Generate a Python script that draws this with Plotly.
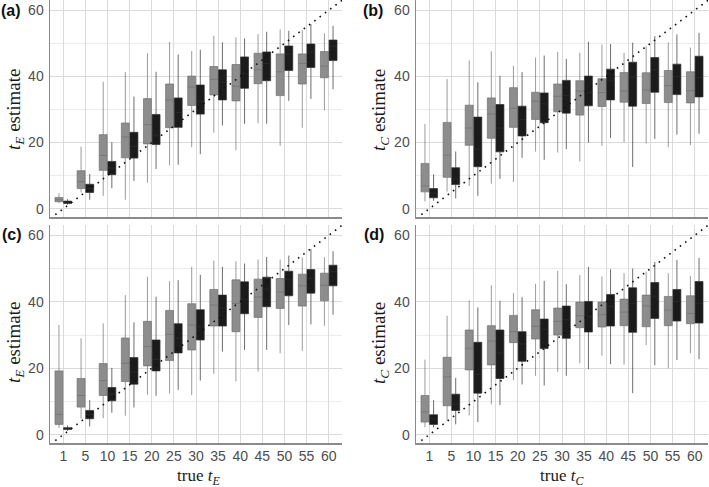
import plotly.graph_objects as go

# ---------------- data ----------------
categories = [1, 5, 10, 15, 20, 25, 30, 35, 40, 45, 50, 55, 60]
tick_labels = [str(c) for c in categories]

# panel (a): t_E, gray series
a_g_lo = [1.7, 4.9, 3.9, 2.7, 7.9, 13.1, 18.6, 23.0, 17.7, 25.8, 19.0, 24.5, 29.7]
a_g_q1 = [2.1, 6.1, 11.6, 15.4, 19.6, 24.5, 31.2, 34.4, 32.6, 37.8, 34.2, 37.7, 39.6]
a_g_md = [2.7, 8.2, 16.1, 21.7, 25.4, 32.9, 36.8, 39.1, 37.0, 42.0, 41.4, 43.9, 43.1]
a_g_q3 = [3.4, 11.5, 22.4, 25.9, 33.3, 37.7, 40.1, 43.0, 43.6, 47.0, 46.8, 46.8, 47.5]
a_g_hi = [4.7, 18.8, 38.4, 41.3, 47.0, 50.4, 47.6, 52.3, 51.8, 52.8, 54.2, 54.0, 53.0]
# panel (a): black series
a_k_lo = [1.2, 2.7, 6.2, 8.4, 12.0, 13.3, 16.5, 25.2, 25.7, 25.7, 32.6, 33.2, 36.1]
a_k_q1 = [1.6, 4.9, 10.3, 15.3, 19.4, 24.6, 28.6, 32.9, 36.4, 38.7, 41.8, 42.7, 44.8]
a_k_md = [2.0, 6.1, 12.3, 18.8, 22.3, 29.1, 32.5, 38.2, 41.0, 43.9, 46.7, 47.4, 49.1]
a_k_q3 = [2.3, 7.4, 14.3, 23.1, 28.5, 33.5, 37.4, 42.0, 45.9, 47.4, 49.2, 49.8, 51.0]
a_k_hi = [2.9, 10.5, 20.1, 33.9, 41.4, 46.6, 48.1, 50.3, 51.5, 53.5, 53.8, 55.8, 55.3]

# panel (b): t_C, gray
b_g_lo = [2.2, 5.2, 6.9, 7.6, 8.1, 17.3, 17.0, 14.3, 19.0, 20.1, 19.7, 18.6, 19.2]
b_g_q1 = [5.1, 9.5, 19.2, 21.3, 24.6, 27.0, 29.3, 28.3, 30.9, 32.2, 31.8, 32.1, 32.0]
b_g_md = [6.9, 16.2, 24.4, 28.6, 30.4, 32.5, 34.0, 35.6, 35.1, 35.6, 35.9, 37.2, 35.7]
b_g_q3 = [13.7, 26.1, 31.3, 33.5, 36.6, 35.2, 37.7, 38.7, 39.3, 41.2, 41.1, 41.8, 41.4]
b_g_hi = [25.6, 39.2, 44.8, 47.6, 43.2, 45.7, 47.4, 47.2, 49.6, 47.1, 49.1, 50.3, 48.7]
# panel (b): black
b_k_lo = [2.4, 3.1, 3.9, 9.0, 15.4, 14.8, 18.0, 20.0, 21.4, 12.6, 21.1, 22.4, 22.7]
b_k_q1 = [3.3, 7.3, 12.7, 17.2, 22.0, 26.0, 28.9, 31.1, 32.9, 31.0, 35.2, 34.5, 33.8]
b_k_md = [4.7, 9.0, 18.1, 24.4, 27.0, 31.7, 34.2, 35.1, 38.6, 39.8, 42.0, 39.9, 39.7]
b_k_q3 = [6.1, 12.4, 27.7, 31.5, 31.0, 35.0, 38.8, 40.1, 42.2, 44.3, 45.7, 43.7, 46.1]
b_k_hi = [10.4, 17.3, 38.2, 40.2, 41.3, 46.3, 45.3, 50.5, 49.8, 50.2, 52.2, 52.7, 53.2]

# panel (c): t_E, gray
c_g_lo = [2.0, 4.8, 5.0, 5.7, 12.0, 12.4, 11.9, 18.3, 16.0, 19.0, 24.5, 25.2, 32.8]
c_g_q1 = [3.1, 8.3, 11.8, 16.0, 20.7, 22.3, 25.5, 32.7, 31.0, 35.3, 38.0, 38.7, 40.3]
c_g_md = [6.1, 11.8, 16.3, 21.5, 26.5, 30.2, 33.0, 39.0, 39.5, 41.4, 42.9, 44.8, 45.0]
c_g_q3 = [19.2, 16.9, 21.4, 29.1, 34.1, 37.4, 39.4, 43.7, 46.6, 46.8, 47.0, 48.3, 48.6]
c_g_hi = [33.0, 29.0, 33.5, 42.0, 47.5, 46.2, 50.5, 52.4, 52.2, 52.7, 52.7, 53.3, 53.4]
# panel (c): black
c_k_lo = [1.1, 2.5, 6.6, 8.2, 11.7, 13.5, 16.3, 25.0, 25.5, 25.5, 33.0, 33.2, 36.1]
c_k_q1 = [1.6, 4.8, 10.2, 15.2, 19.2, 24.6, 28.5, 32.7, 36.4, 38.5, 41.8, 42.6, 44.8]
c_k_md = [1.9, 6.0, 12.2, 18.9, 22.7, 29.0, 32.5, 38.1, 40.9, 43.8, 46.6, 47.0, 49.1]
c_k_q3 = [2.1, 7.3, 14.2, 23.2, 28.5, 33.4, 37.6, 42.0, 46.0, 47.4, 49.2, 49.7, 51.0]
c_k_hi = [2.8, 10.4, 20.1, 33.8, 41.5, 46.5, 48.1, 50.5, 51.5, 53.5, 53.9, 55.9, 55.2]

# panel (d): t_C, gray
d_g_lo = [2.2, 4.3, 5.8, 9.1, 16.4, 17.7, 18.9, 21.5, 23.8, 21.1, 27.0, 20.0, 24.5]
d_g_q1 = [3.8, 8.7, 19.5, 21.0, 27.7, 28.8, 30.0, 32.2, 32.4, 32.8, 32.5, 32.8, 33.4]
d_g_md = [6.9, 17.4, 26.0, 28.2, 31.0, 32.6, 34.1, 35.8, 36.1, 36.9, 38.8, 37.5, 36.5]
d_g_q3 = [11.8, 23.3, 31.5, 32.8, 35.9, 37.6, 38.1, 39.9, 39.9, 40.8, 42.0, 41.6, 41.8]
d_g_hi = [22.6, 35.8, 40.4, 45.0, 42.6, 45.4, 49.3, 48.0, 47.6, 48.6, 49.1, 48.6, 47.8]
# panel (d): black
d_k_lo = [2.2, 3.1, 3.8, 8.9, 15.1, 14.8, 17.7, 19.7, 21.2, 12.5, 20.9, 22.5, 22.7]
d_k_q1 = [3.1, 7.3, 12.5, 16.9, 22.1, 25.9, 29.0, 30.9, 32.7, 30.8, 35.0, 34.2, 33.6]
d_k_md = [4.8, 9.2, 18.2, 24.6, 27.3, 31.7, 34.6, 35.4, 38.6, 39.5, 41.7, 40.1, 39.6]
d_k_q3 = [6.0, 12.2, 27.8, 31.5, 31.0, 34.8, 38.7, 40.1, 42.2, 44.2, 45.8, 43.7, 46.1]
d_k_hi = [10.4, 17.1, 38.3, 40.3, 41.4, 46.3, 45.3, 50.5, 49.8, 50.0, 52.0, 52.6, 53.2]

# ---------------- figure ----------------
W, H = 709, 487
pos = list(range(len(categories)))
x_range = [-0.6, len(categories) - 1 + 0.6]
y_range = [-2.5, 63.1]
slope = (categories[-1] - categories[1]) / (len(categories) - 2)

GRAY_FILL, GRAY_LINE = "#8d8d8d", "#707070"
BLACK_FILL, BLACK_LINE = "#1b1b1b", "#2e2e2e"

panels = [
    ("x", "y", (a_g_lo, a_g_q1, a_g_md, a_g_q3, a_g_hi), (a_k_lo, a_k_q1, a_k_md, a_k_q3, a_k_hi)),
    ("x2", "y2", (b_g_lo, b_g_q1, b_g_md, b_g_q3, b_g_hi), (b_k_lo, b_k_q1, b_k_md, b_k_q3, b_k_hi)),
    ("x3", "y3", (c_g_lo, c_g_q1, c_g_md, c_g_q3, c_g_hi), (c_k_lo, c_k_q1, c_k_md, c_k_q3, c_k_hi)),
    ("x4", "y4", (d_g_lo, d_g_q1, d_g_md, d_g_q3, d_g_hi), (d_k_lo, d_k_q1, d_k_md, d_k_q3, d_k_hi)),
]

fig = go.Figure()
for xa, ya, gs, ks in panels:
    for name, st, fill, line in (("g", gs, GRAY_FILL, GRAY_LINE), ("k", ks, BLACK_FILL, BLACK_LINE)):
        lo, q1, md, q3, hi = st
        fig.add_trace(go.Box(
            x=pos, lowerfence=lo, q1=q1, median=md, q3=q3, upperfence=hi,
            boxpoints=False, fillcolor=fill, line=dict(color=line, width=0.7),
            whiskerwidth=0, offsetgroup=name, alignmentgroup=xa,
            xaxis=xa, yaxis=ya, showlegend=False, hoverinfo="skip",
        ))
    fig.add_trace(go.Scatter(
        x=x_range, y=[slope * v for v in x_range], mode="lines",
        line=dict(color="#111111", width=1.6, dash="1.6px,5px"),
        xaxis=xa, yaxis=ya, showlegend=False, hoverinfo="skip",
    ))

def px_x(p):
    return p / W

def px_y(p):
    return 1 - p / H

dom_x_left = [px_x(50), px_x(342)]
dom_x_right = [px_x(416), px_x(708)]
dom_y_top = [px_y(217), px_y(0)]
dom_y_bot = [px_y(443), px_y(225)]

tick_font = dict(family="Liberation Sans, Arial, sans-serif", size=14, color="#4d4d4d")
GRID = "#dadada"
MINOR = "#ececec"
AXLINE = "#8a8a8a"

def xaxis(domain, anchor, show_labels):
    return dict(
        domain=domain, anchor=anchor, range=x_range, tickvals=pos, ticktext=tick_labels,
        showticklabels=show_labels, showgrid=True, gridcolor=GRID, gridwidth=1,
        zeroline=False, showline=True, linecolor=AXLINE, linewidth=1.5, ticks="",
        tickfont=tick_font, fixedrange=True, automargin=False,
    )

def yaxis(domain, anchor):
    return dict(
        domain=domain, anchor=anchor, range=y_range, tickvals=[0, 20, 40, 60],
        showgrid=True, gridcolor=GRID, gridwidth=1,
        minor=dict(tickvals=[10, 30, 50], showgrid=True, gridcolor=MINOR, gridwidth=1),
        zeroline=False, showline=True, linecolor=AXLINE, linewidth=1.5, ticks="",
        tickfont=tick_font, ticklabelstandoff=2, fixedrange=True, automargin=False,
    )

serif_y = dict(family="Liberation Serif, Times New Roman, serif", size=19, color="#1a1a1a")
serif_x = dict(family="Liberation Serif, Times New Roman, serif", size=17, color="#1a1a1a")
bold = dict(family="Liberation Sans, Arial, sans-serif", size=16, color="#111111")

annotations = []
for label, x, y in (("(a)", 11, 11), ("(b)", 373, 11), ("(c)", 12, 234), ("(d)", 374, 234)):
    annotations.append(dict(text=f"<b>{label}</b>", x=px_x(x), y=px_y(y), xref="paper", yref="paper",
                            xanchor="center", yanchor="middle", showarrow=False, font=bold))
for sub, x, y in (("E", 15, 110), ("C", 380, 110), ("E", 15, 343), ("C", 380, 343)):
    annotations.append(dict(text=f"<i>t</i><sub><i>{sub}</i></sub> estimate", x=px_x(x), y=px_y(y),
                            xref="paper", yref="paper", xanchor="center", yanchor="middle",
                            textangle=-90, showarrow=False, font=serif_y))
for sub, x in (("E", 198), ("C", 562)):
    annotations.append(dict(text=f"true <i>t</i><sub><i>{sub}</i></sub>", x=px_x(x), y=px_y(477),
                            xref="paper", yref="paper", xanchor="center", yanchor="middle",
                            showarrow=False, font=serif_x))

fig.update_layout(
    width=W, height=H, margin=dict(l=0, r=0, t=0, b=0, autoexpand=False),
    paper_bgcolor="white", plot_bgcolor="white",
    boxmode="group", boxgap=0.22, boxgroupgap=0.08,
    xaxis=xaxis(dom_x_left, "y", False),
    yaxis=yaxis(dom_y_top, "x"),
    xaxis2=xaxis(dom_x_right, "y2", False),
    yaxis2=yaxis(dom_y_top, "x2"),
    xaxis3=xaxis(dom_x_left, "y3", True),
    yaxis3=yaxis(dom_y_bot, "x3"),
    xaxis4=xaxis(dom_x_right, "y4", True),
    yaxis4=yaxis(dom_y_bot, "x4"),
    annotations=annotations,
)

fig.write_html(
    "out.html",
    config={"displayModeBar": False, "staticPlot": True},
    post_script="document.body.style.margin='0';document.body.style.padding='0';document.body.style.overflow='hidden';",
)
